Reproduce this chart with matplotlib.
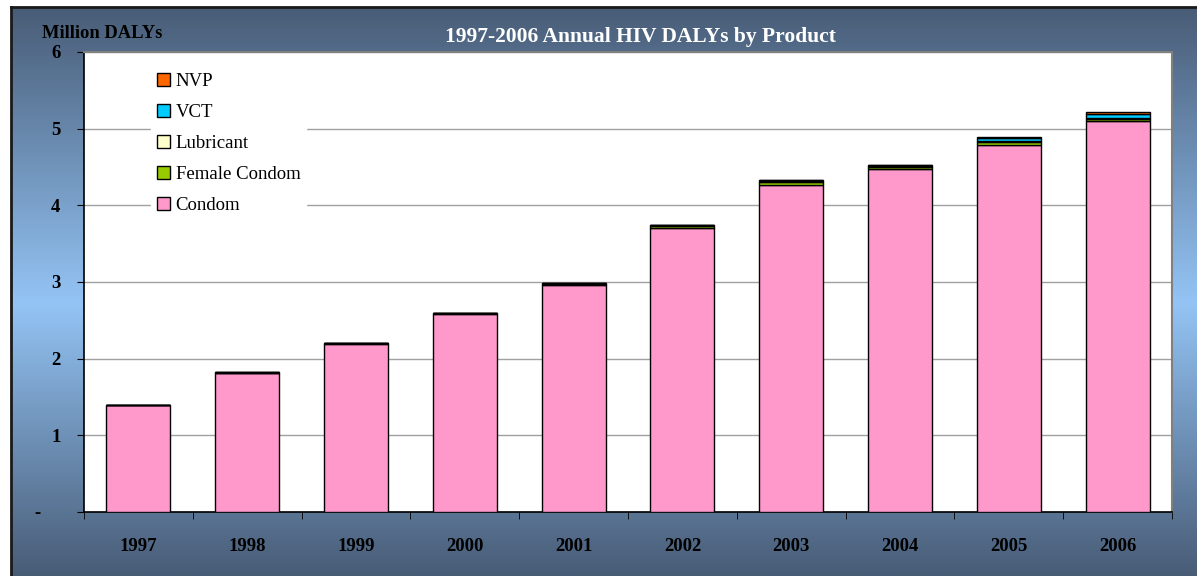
import numpy as np
import matplotlib.pyplot as plt
from matplotlib.colors import LinearSegmentedColormap

# data (million DALYs)
years = ['1997', '1998', '1999', '2000', '2001', '2002', '2003', '2004', '2005', '2006']
condom = [1.39, 1.81, 2.19, 2.58, 2.96, 3.71, 4.27, 4.47, 4.79, 5.10]
female_condom = [0.005, 0.008, 0.010, 0.012, 0.015, 0.020, 0.030, 0.030, 0.030, 0.020]
lubricant = [0.002, 0.003, 0.004, 0.005, 0.006, 0.008, 0.015, 0.015, 0.020, 0.020]
vct = [0.001, 0.001, 0.002, 0.002, 0.003, 0.005, 0.015, 0.015, 0.040, 0.045]
nvp = [0.0, 0.0, 0.0, 0.0, 0.0, 0.0, 0.0, 0.0, 0.010, 0.030]

series = [('Condom', condom, '#ff99cc'),
          ('Female Condom', female_condom, '#99cc00'),
          ('Lubricant', lubricant, '#ffffcc'),
          ('VCT', vct, '#00ccff'),
          ('NVP', nvp, '#ff6600')]

plt.rcParams['font.family'] = ['Liberation Serif', 'DejaVu Serif']

W, H = 1197, 576
fig = plt.figure(figsize=(W / 100, H / 100), dpi=100)

# fond degradé
bg = fig.add_axes([11 / W, 0, 1 - 11 / W, 1 - 7 / H])
cmap = LinearSegmentedColormap.from_list('bg', [(0, '#485c76'), (0.48, '#94c4f5'), (1, '#485c76')])
bg.imshow(np.linspace(0, 1, 256).reshape(-1, 1), aspect='auto', cmap=cmap, extent=[0, 1, 0, 1])
bg.set_xlim(0, 1)
bg.set_ylim(1, 0)
bg.axis('off')
fig.add_artist(plt.Line2D([11 / W, 1], [1 - 7 / H, 1 - 7 / H], color='#1a1a1a', lw=2, transform=fig.transFigure))
fig.add_artist(plt.Line2D([11 / W, 11 / W], [0, 1 - 7 / H], color='#1a1a1a', lw=2, transform=fig.transFigure))

ax = fig.add_axes([84 / W, 1 - 512 / H, (1172 - 84) / W, (512 - 52) / H])
ax.set_facecolor('white')

x = np.arange(len(years))
bottom = np.zeros(len(years))
handles = []
for name, vals, col in series:
    b = ax.bar(x, vals, 0.59, bottom=bottom, color=col, edgecolor='black', linewidth=1.0, label=name, zorder=3)
    bottom += np.array(vals)
    handles.append(b)

ax.set_xlim(-0.5, len(years) - 0.5)
ax.set_ylim(0, 6)
ax.set_yticks(range(7))
ax.set_yticklabels(['-    ', '1', '2', '3', '4', '5', '6'], fontweight='bold', fontsize=13.5)
ax.yaxis.grid(True, color='#a0a0a0', linewidth=1)
ax.set_axisbelow(True)

ax.set_xticks(x)
ax.set_xticklabels(years, fontweight='bold', fontsize=13.5)
ax.tick_params(axis='x', which='major', length=0, pad=19)
ax.set_xticks(np.arange(-0.5, len(years)), minor=True)
ax.tick_params(axis='x', which='minor', length=5, direction='out', color='black')
ax.tick_params(axis='y', length=5, direction='out', color='black', pad=12)

for s in ['top', 'right']:
    ax.spines[s].set_color('#808080')
    ax.spines[s].set_linewidth(1.5)
for s in ['left', 'bottom']:
    ax.spines[s].set_color('black')
    ax.spines[s].set_linewidth(1.2)

leg = ax.legend(handles[::-1], [s[0] for s in series][::-1], loc='upper left',
                bbox_to_anchor=(58 / 1088, 1 - 6 / 460), frameon=True, fancybox=False,
                facecolor='white', edgecolor='white', framealpha=1, fontsize=13.5,
                handlelength=0.7, handleheight=0.7, handletextpad=0.3,
                labelspacing=0.74, borderpad=0.3)
leg.set_zorder(5)

fig.text(42 / W, 1 - 34 / H, 'Million DALYs', fontsize=13.3, fontweight='bold', va='center', ha='left')
fig.text(640 / W, 1 - 37 / H, '1997-2006 Annual HIV DALYs by Product', fontsize=15.5, fontweight='bold',
         color='white', va='center', ha='center')

fig.savefig('out.png', dpi=100)
